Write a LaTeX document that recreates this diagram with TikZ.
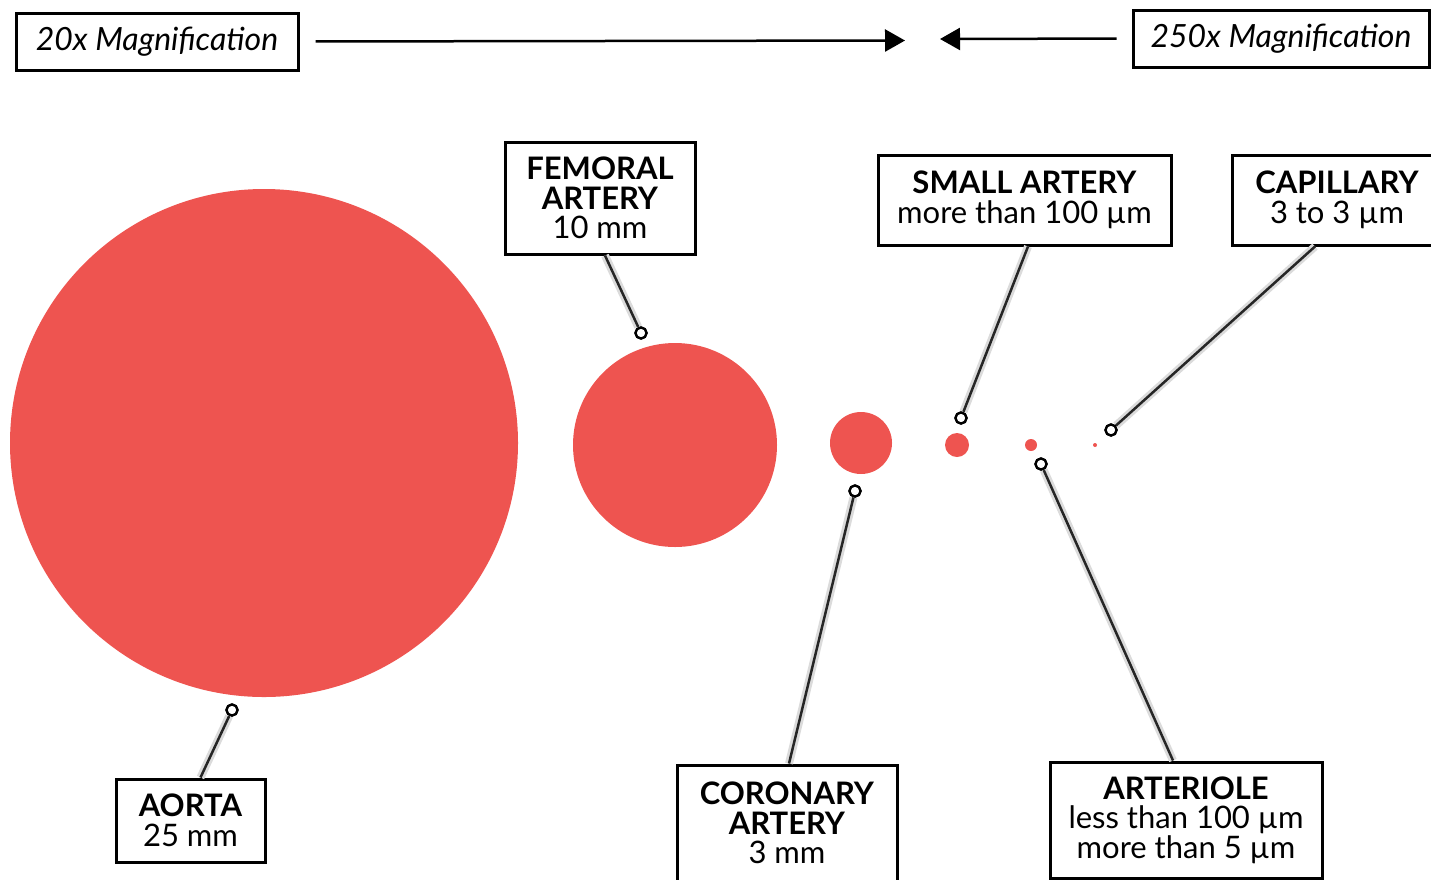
\documentclass[tikz,border=0pt]{standalone}
\usepackage{fontspec}
\setmainfont{Lato}
\usetikzlibrary{arrows.meta}
\definecolor{vred}{RGB}{238,84,80}
\tikzset{
  lbl/.style={draw=black, line width=3pt, fill=white, inner sep=0pt, align=center,
    font=\fontsize{31}{29.5}\selectfont},
  mag/.style={draw=black, line width=3pt, fill=white, inner sep=0pt,
    font=\fontsize{32}{34}\selectfont\itshape},
  pinc/.style={circle, draw=black, line width=2.3pt, fill=white, minimum size=11pt, inner sep=0pt},
  leader/.style={line width=2.5pt, black!85, preaction={draw=black!14, line width=8pt}},
  vessel/.style={fill=vred, draw=none},
  magarrow/.style={line width=2.5pt, -{Triangle[length=20pt,width=22pt]}}
}
\begin{document}
\begin{tikzpicture}[x=1pt,y=-1pt]
\useasboundingbox (0,0) rectangle (1431,879);
\clip (0,0) rectangle (1431,879);
% vessels
\fill[vessel] (264,443) circle (254);
\fill[vessel] (675,445) circle (102);
\fill[vessel] (861,443) circle (31);
\fill[vessel] (957,445) circle (12);
\fill[vessel] (1031,445) circle (6);
\fill[vessel] (1095,445) circle (2);
% magnification
\node[mag, minimum width=282pt, minimum height=57pt] (m20) at (157,41.5) {20x Magnification};
\node[mag, minimum width=296pt, minimum height=57pt] (m250) at (1281,38.5) {250x Magnification};
\coordinate (lt) at (905,40.5);
\coordinate (rt) at (940,39);
\draw[magarrow, shorten <=16pt] (m20.east) -- (lt);
\draw[magarrow, shorten <=15pt] (m250.west) -- (rt);
% label boxes
\node[lbl, minimum width=190pt, minimum height=112pt] (fem) at (600,198)
  {\textbf{FEMORAL}\\\textbf{ARTERY}\\10 mm};
\node[lbl, minimum width=293pt, minimum height=90pt] (sma) at (1024.5,200)
  {\textbf{SMALL ARTERY}\\more than 100 µm};
\node[lbl, minimum width=210pt, minimum height=90pt] (cap) at (1337,200)
  {\textbf{CAPILLARY}\\3 to 3 µm};
\node[lbl, minimum width=149pt, minimum height=83pt] (aor) at (190.5,820.5)
  {\textbf{AORTA}\\25 mm};
\node[lbl, minimum width=220pt, minimum height=116pt] (cor) at (787,823)
  {\textbf{CORONARY}\\\textbf{ARTERY}\\3 mm};
\node[lbl, minimum width=272pt, minimum height=116pt] (art) at (1186,820)
  {\textbf{ARTERIOLE}\\less than 100 µm\\more than 5 µm};
% pins
\node[pinc] (pfem) at (641,333) {};
\node[pinc] (psma) at (961,418) {};
\node[pinc] (pcap) at (1111,430) {};
\node[pinc] (paor) at (232,710) {};
\node[pinc] (pcor) at (855,491) {};
\node[pinc] (part) at (1041,464) {};
% leaders
\draw[leader] ([xshift=5pt]fem.south) -- (pfem);
\draw[leader] ([xshift=3.5pt]sma.south) -- (psma);
\draw[leader] ([xshift=-22pt]cap.south) -- (pcap);
\draw[leader] ([xshift=10pt]aor.north) -- (paor);
\draw[leader] ([xshift=2pt]cor.north) -- (pcor);
\draw[leader] ([xshift=-13pt]art.north) -- (part);
% redraw pins on top
\node[pinc] at (pfem) {};
\node[pinc] at (psma) {};
\node[pinc] at (pcap) {};
\node[pinc] at (paor) {};
\node[pinc] at (pcor) {};
\node[pinc] at (part) {};
\end{tikzpicture}
\end{document}
